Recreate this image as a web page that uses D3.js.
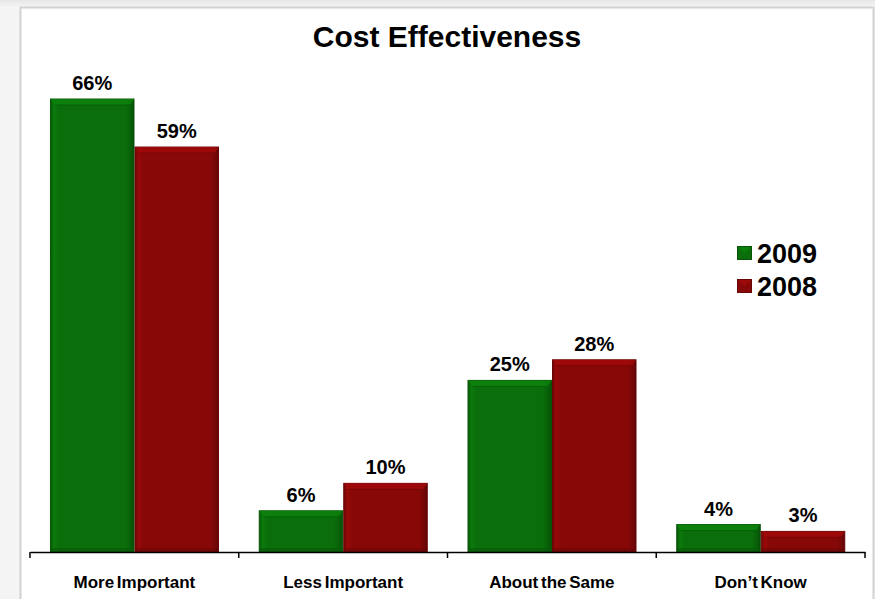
<!DOCTYPE html>
<html><head><meta charset="utf-8">
<script src="https://cdn.jsdelivr.net/npm/d3@7"></script>
<style>body{margin:0;background:#fff}svg{display:block}</style>
</head><body>
<svg id="c" width="875" height="599"></svg>
<script>
const categories = ["More Important", "Less Important", "About the Same", "Don\u2019t Know"];
const seriesNames = ["2009", "2008"];
const values2009 = [66, 6, 25, 4];
const values2008 = [59, 10, 28, 3];
const colors = {"2009": "#0a6e0a", "2008": "#880808"};

const svg = d3.select("#c");
const W = 875, H = 599;
const FF = "Liberation Sans, Arial, sans-serif";

const defs = svg.append("defs");
const bg = defs.append("linearGradient").attr("id","bg").attr("x1",0).attr("y1",0).attr("x2",0).attr("y2",1);
bg.append("stop").attr("offset","0").attr("stop-color","#e6e6e6");
bg.append("stop").attr("offset","1").attr("stop-color","#f7f7f7");
svg.append("rect").attr("width",W).attr("height",H).attr("fill","#f4f4f4");
svg.append("rect").attr("width",W).attr("height",8).attr("fill","url(#bg)");
svg.append("rect").attr("x",20.5).attr("y",7.5).attr("width",853).attr("height",600)
  .attr("fill","#fff").attr("stroke","#d2d2d2").attr("stroke-width",2);

const x0 = d3.scaleBand().domain(categories).range([30, 865]).paddingInner(0).paddingOuter(0);
const x1 = d3.scaleBand().domain(seriesNames).range([20, 189]).padding(0);
const y = d3.scaleLinear().domain([0, 66]).range([552, 99]);

seriesNames.forEach(s => {
  const g = defs.append("linearGradient").attr("id","g"+s).attr("x1",0).attr("y1",0).attr("x2",1).attr("y2",0);
  const c = d3.color(colors[s]);
  g.append("stop").attr("offset","0").attr("stop-color",c.darker(0.6));
  g.append("stop").attr("offset","0.04").attr("stop-color",c.brighter(0.3));
  g.append("stop").attr("offset","0.1").attr("stop-color",c);
  g.append("stop").attr("offset","0.9").attr("stop-color",c);
  g.append("stop").attr("offset","0.97").attr("stop-color",c.darker(0.5));
  g.append("stop").attr("offset","1").attr("stop-color",c.darker(1));
});

svg.append("text").attr("x",447).attr("y",47).attr("text-anchor","middle")
  .attr("font-family",FF).attr("font-weight","bold")
  .attr("font-size",30).attr("fill","#000").text("Cost Effectiveness");

const data = [];
categories.forEach((c,i) => {
  data.push({cat:c, s:"2009", v:values2009[i]});
  data.push({cat:c, s:"2008", v:values2008[i]});
});

const bars = svg.append("g");
data.forEach(d => {
  const bx = x0(d.cat) + x1(d.s) + 0.5;
  const bw = x1.bandwidth() - 1;
  const by = y(d.v), bh = y(0) - y(d.v);
  const c = d3.color(colors[d.s]);
  const g = bars.append("g");
  g.append("rect").attr("x",bx).attr("y",by).attr("width",bw).attr("height",bh)
    .attr("fill","url(#g"+d.s+")").attr("stroke",c.darker(0.8)).attr("stroke-width",1);
  const bev = Math.min(6, bh/2);
  g.append("path").attr("d",`M${bx},${by}L${bx+bw},${by}L${bx+bw-4},${by+bev}L${bx+4},${by+bev}Z`)
    .attr("fill",c.brighter(0.5)).attr("opacity",0.8);
  g.append("line").attr("x1",bx+4).attr("x2",bx+bw-4).attr("y1",by+bev).attr("y2",by+bev)
    .attr("stroke",c.darker(0.4)).attr("stroke-width",1);
  g.append("rect").attr("x",bx).attr("y",y(0)-4).attr("width",bw).attr("height",4)
    .attr("fill",c.darker(0.7)).attr("opacity",0.6);
  svg.append("text").attr("x",bx+bw/2).attr("y",by-9).attr("text-anchor","middle")
    .attr("font-family",FF).attr("font-weight","bold")
    .attr("font-size",20).attr("fill","#000").text(d.v+"%");
});

const axis = d3.axisBottom(x0).tickSize(0).tickFormat("");
const ag = svg.append("g").attr("transform","translate(0,552)").call(axis);
ag.select(".domain").attr("stroke","#000").attr("stroke-width",1.5);
const tickXs = categories.map(c => x0(c)).concat([x0.range()[1]]);
ag.selectAll(".tk").data(tickXs).enter().append("line")
  .attr("x1",d=>d).attr("x2",d=>d).attr("y1",0).attr("y2",6).attr("stroke","#000").attr("stroke-width",1.5);
svg.selectAll(".cl").data(categories).enter().append("text")
  .attr("x",d=>x0(d)+x0.bandwidth()/2).attr("y",588).attr("text-anchor","middle")
  .attr("font-family",FF).attr("font-weight","bold")
  .attr("font-size",17).attr("word-spacing",-2).attr("fill","#000").text(d=>d);

const leg = svg.append("g");
seriesNames.forEach((s,i) => {
  const ly = 246 + i*33;
  const c = d3.color(colors[s]);
  leg.append("rect").attr("x",737.5).attr("y",ly+0.5).attr("width",14).attr("height",13)
    .attr("fill",c).attr("stroke",c.darker(0.8));
  leg.append("path").attr("d",`M${738},${ly+1}L${751},${ly+1}L${744.5},${ly+7}Z`).attr("fill",c.brighter(0.6)).attr("opacity",0.7);
  leg.append("text").attr("x",757).attr("y",ly+17).attr("font-family",FF)
    .attr("font-weight","bold").attr("font-size",27).attr("fill","#000").text(s);
});
</script>
</body></html>
